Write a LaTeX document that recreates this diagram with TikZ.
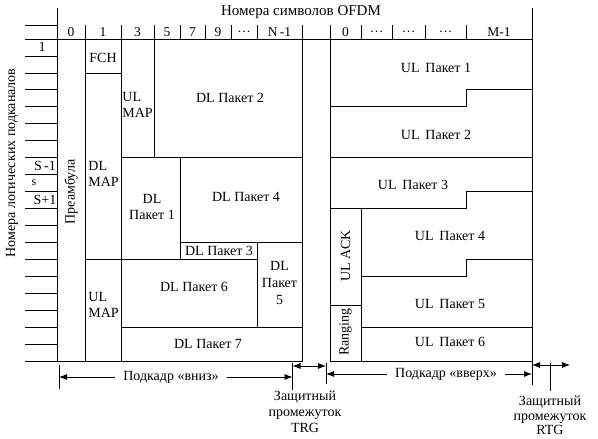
\documentclass[tikz,border=0pt]{standalone}
\usepackage{fontspec}
\setmainfont{Liberation Serif}
\usetikzlibrary{arrows.meta}
\begin{document}
\begin{tikzpicture}[x=1pt,y=-1pt,line width=0.8pt,
  txt/.style={font=\fontsize{14}{16}\selectfont,inner sep=1pt,align=center},
  ltxt/.style={font=\fontsize{14}{16}\selectfont,inner sep=1pt,align=left},
  hdr/.style={font=\fontsize{13.5}{15}\selectfont,inner sep=0pt},
  dbl/.style={{Latex[length=8pt,width=6pt]}-{Latex[length=8pt,width=6pt]}}]
\useasboundingbox (0,0) rectangle (598,439);

% ---------- axes and header ----------
\node[txt,font=\fontsize{15}{16}\selectfont] (title) at (301,12) {Номера символов OFDM};
\draw (57,8) -- (57,361);
\draw (532,8) -- (532,361);
\draw (25,25) -- (57,25);
\foreach \x in {85,121,154,180,205,231,257,302,330,361,392,425,466}
  \draw (\x,25) -- (\x,39);
\foreach \x/\t [count=\i] in {71/0,103/1,137.5/3,167/5,192.5/7,218/9,244/\dots,279.5/N\,-1}
  \node[hdr] (dh\i) at (\x,32) {\t};
\foreach \x/\t [count=\i] in {345.5/0,376.5/\dots,408.5/\dots,445.5/\dots,499/M-1}
  \node[hdr] (uh\i) at (\x,32) {\t};

% ---------- left row grid ----------
\foreach \y in {39,55.9,72.9,89.8,106.8,123.7,140.7,157.6,174.6,191.5,208.5,225.4,242.4,259.3,276.3,293.2,310.2,327.1,344.1}
  \draw (25,\y) -- (57,\y);
\draw (25,361) -- (302,361);
\node[hdr,font=\fontsize{14}{15}\selectfont] (r1) at (42,47) {1};
\node[hdr,font=\fontsize{14}{15}\selectfont] (rsm) at (45,166) {S\,-1};
\node[hdr,font=\fontsize{12}{14}\selectfont] (rs) at (34,183) {s};
\node[hdr,font=\fontsize{14}{15}\selectfont] (rsp) at (45,200) {S+1};
\node[txt,rotate=90] (ylab) at (12,163) {Номера логических подканалов};

% ---------- downlink subframe ----------
\draw (57,39) rectangle (302,361);
\draw (85,39) -- (85,361);
\draw (121,39) -- (121,361);
\draw (85,72.9) -- (121,72.9);
\draw (85,259.3) -- (121,259.3);
\draw (154,39) -- (154,157.6);
\draw (121,157.6) -- (302,157.6);
\draw (180,157.6) -- (180,259.3);
\draw (180,242.4) -- (302,242.4);
\draw (121,259.3) -- (257,259.3);
\draw (257,242.4) -- (257,327.1);
\draw (121,327.1) -- (302,327.1);

\node[txt,rotate=90] (pre) at (71,192) {Преамбула};
\node[txt] (fch) at (103,58) {FCH};
\node[ltxt,anchor=west] (dlmap) at (87,173.5) {DL\\MAP};
\node[ltxt,anchor=west] (ulmap2) at (87,305) {UL\\MAP};
\node[ltxt,anchor=west] (ulmap1) at (121,104.5) {UL\\MAP};
\node[txt] (dl2) at (230,98) {DL Пакет 2};
\node[txt] (dl1) at (152,207) {DL\\Пакет 1};
\node[txt] (dl4) at (246,197) {DL Пакет 4};
\node[txt] (dl3) at (219,251) {DL Пакет 3};
\node[txt,font=\fontsize{14}{17}\selectfont] (dl5) at (279.5,283) {DL\\Пакет\\5};
\node[txt] (dl6) at (194,287) {DL Пакет 6};
\node[txt] (dl7) at (208,344) {DL Пакет 7};

% ---------- uplink subframe ----------
\draw (330,25) -- (330,361) -- (532,361);
\draw (302,39) -- (532,39);
\draw (330,106.8) -- (466,106.8) -- (466,89.8) -- (532,89.8);
\draw (330,157.6) -- (532,157.6);
\draw (330,208.5) -- (466,208.5) -- (466,191.5) -- (532,191.5);
\draw (361,208.5) -- (361,361);
\draw (330,305) -- (361,305);
\draw (361,276.3) -- (466,276.3) -- (466,259.3) -- (532,259.3);
\draw (361,327.1) -- (532,327.1);

\node[txt] (ul1) at (436,68) {UL\ \,Пакет 1};
\node[txt] (ul2) at (436,135) {UL\ \,Пакет 2};
\node[txt] (ul3) at (413,185) {UL\ \,Пакет 3};
\node[txt] (ul4) at (450,236) {UL\ \,Пакет 4};
\node[txt] (ul5) at (450,304) {UL\ \,Пакет 5};
\node[txt] (ul6) at (450,342) {UL\ \,Пакет 6};
\node[txt,rotate=90] (ack) at (345.5,256) {UL ACK};
\node[txt,rotate=90] (rng) at (345.5,332) {Ranging};

% ---------- bottom annotations ----------
\coordinate (tA) at (59,365);   \coordinate (tA2) at (59,389);
\coordinate (tB) at (292.5,363);\coordinate (tB2) at (292.5,390);
\coordinate (tC) at (326,363);  \coordinate (tC2) at (326,384);
\coordinate (tD) at (532,361);  \coordinate (tD2) at (532,385);
\coordinate (tE) at (550,363);  \coordinate (tE2) at (550,391);
\draw (tA) -- (tA2);
\draw (tB) -- (tB2);
\draw (tC) -- (tC2);
\draw (tD) -- (tD2);
\draw (tE) -- (tE2);

\coordinate (dnL) at (59,377);  \coordinate (dnR) at (292.5,377);
\coordinate (upL) at (326,374); \coordinate (upR) at (532,374);
\coordinate (trgL) at (292.5,366); \coordinate (trgR) at (326,366);
\coordinate (rtgL) at (532,365); \coordinate (rtgR) at (570,365);
\draw[dbl] (dnL) -- (dnR);
\draw[dbl] (upL) -- (upR);
\draw[dbl] (trgL) -- (trgR);
\draw[dbl] (rtgL) -- (rtgR);
\node[txt,fill=white,inner xsep=8pt] (down) at (171,377) {Подкадр «вниз»};
\node[txt,fill=white,inner xsep=8pt] (up) at (446,374) {Подкадр «вверх»};
\node[txt,anchor=north] (trg) at (305,390) {Защитный\\промежуток\\TRG};
\node[txt,anchor=north,font=\fontsize{14}{14.5}\selectfont] (rtg) at (550,395) {Защитный\\промежуток\\RTG};
\end{tikzpicture}
\end{document}
